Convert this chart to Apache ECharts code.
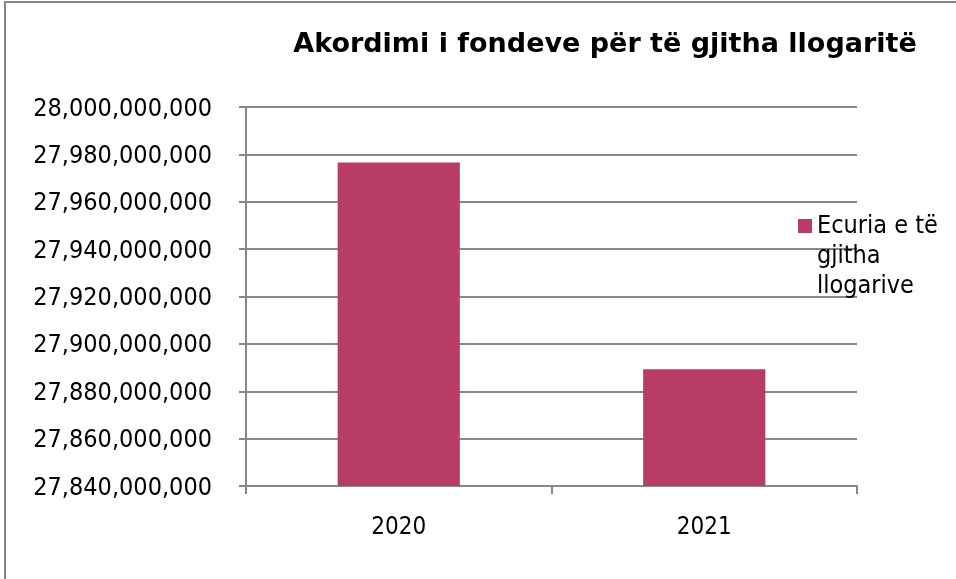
<!DOCTYPE html>
<html>
<head>
<meta charset="utf-8">
<script src="https://cdn.jsdelivr.net/npm/echarts@6/dist/echarts.min.js"></script>
<style>
  html, body { margin: 0; padding: 0; background: #fff; }
  #chart { width: 956px; height: 579px; }
</style>
</head>
<body>
<div id="chart"></div>
<script>
// --- data ---
const categories = ['2020', '2021'];
const seriesName = 'Ecuria e të gjitha llogarive';
const values = [27976600000, 27889300000];
const yMin = 27840000000;
const yMax = 28000000000;
const yStep = 20000000;

const chart = echarts.init(document.getElementById('chart'));
const font = '"DejaVu Sans Condensed", "DejaVu Sans", sans-serif';
const grey = '#878787';

const option = {
  animation: false,
  title: {
    text: 'Akordimi i fondeve për të gjitha llogaritë',
    left: 600,
    top: 26,
    textAlign: 'center',
    textStyle: { fontFamily: '"DejaVu Sans", sans-serif', fontSize: 27, fontWeight: 'bold', color: '#000' }
  },
  legend: {
    left: 798,
    top: 211,
    padding: 0,
    orient: 'vertical',
    itemWidth: 14,
    itemHeight: 74,
    // square at the top of a tall icon box so it sits beside the first text line
    icon: 'path://M0,0L14,0L14,14L0,14Z M0,74L0,74Z',
    formatter: () => 'Ecuria e të\ngjitha\nllogarive',
    textStyle: { fontFamily: font, fontSize: 25, color: '#000', lineHeight: 30 }
  },
  grid: { left: 246, right: 99, top: 107, bottom: 93, containLabel: false },
  xAxis: {
    type: 'category',
    data: categories,
    axisLine: { lineStyle: { color: grey, width: 2 } },
    axisTick: { show: true, length: 8, lineStyle: { color: grey, width: 2 } },
    axisLabel: { fontFamily: font, fontSize: 24, color: '#000', margin: 30 }
  },
  yAxis: {
    type: 'value',
    min: yMin,
    max: yMax,
    interval: yStep,
    axisLine: { show: true, lineStyle: { color: grey, width: 2 } },
    axisTick: { show: true, length: 7, lineStyle: { color: grey, width: 2 } },
    splitLine: { lineStyle: { color: grey, width: 2 } },
    axisLabel: {
      margin: 34,
      formatter: v => '{a|' + v.toLocaleString('en-US') + '}',
      rich: { a: { fontFamily: font, fontSize: 25, color: '#000', padding: [4, 0, 0, 0] } }
    }
  },
  series: [{
    name: seriesName,
    type: 'bar',
    data: values,
    barWidth: '40%',
    itemStyle: { color: '#B83C67' }
  }],
  graphic: [{
    type: 'rect',
    shape: { x: 5, y: 2, width: 1200, height: 1200 },
    style: { fill: null, stroke: grey, lineWidth: 2 },
    silent: true
  }]
};

chart.setOption(option);
</script>
</body>
</html>
